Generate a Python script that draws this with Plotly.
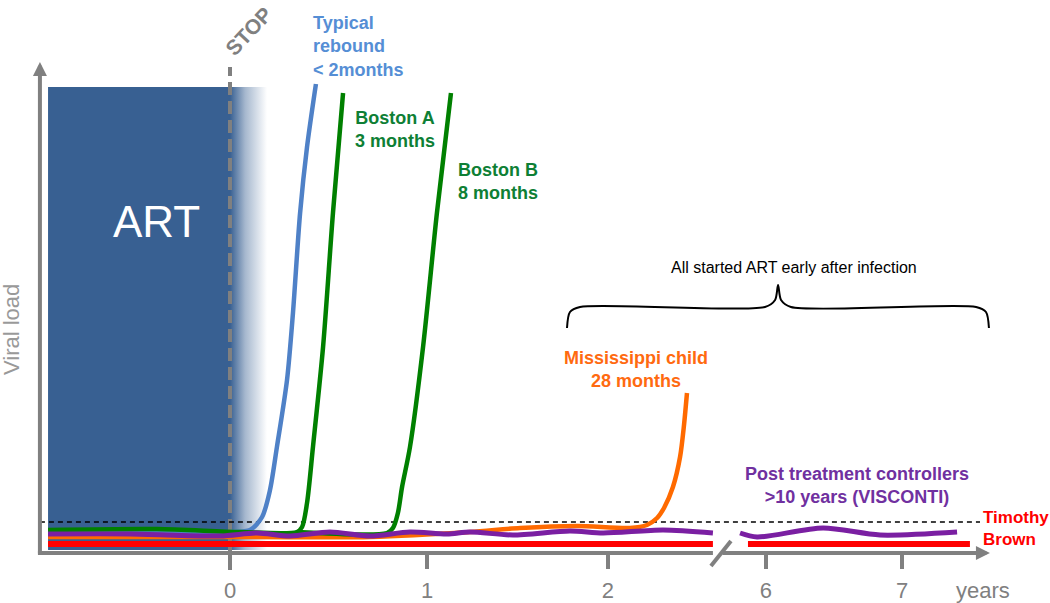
import plotly.graph_objects as go

# ---- schematic time axis (t units) and viral load (arbitrary) ----
TICK_T = [0, 0.995, 1.909, 2.707, 3.394]
TICK_TEXT = ["0", "1", "2", "6", "7"]

ART_T = [-0.919, 0.187, 0.187, -0.919]
ART_V = [0.03, 0.03, 4.66, 4.66]

BLUE_T = [-0.919, -0.404, 0.0, 0.101, 0.162, 0.202, 0.237, 0.288, 0.318, 0.354, 0.389, 0.434]
BLUE_V = [0.22, 0.21, 0.21, 0.23, 0.36, 0.63, 1.06, 1.73, 2.40, 3.40, 4.06, 4.69]

BOSTON_A_T = [-0.919, -0.369, 0.051, 0.338, 0.364, 0.389, 0.419, 0.470, 0.520, 0.571]
BOSTON_A_V = [0.23, 0.24, 0.21, 0.21, 0.26, 0.50, 1.06, 2.06, 3.40, 4.60]

BOSTON_B_T = [0.338, 0.793, 0.823, 0.848, 0.869, 0.909, 0.975, 1.045, 1.116]
BOSTON_B_V = [0.21, 0.20, 0.25, 0.40, 0.66, 1.06, 2.06, 3.40, 4.60]

MISS_T = [-0.919, 0.101, 0.707, 1.212, 1.465, 1.753, 2.020, 2.106, 2.157, 2.192, 2.237, 2.273, 2.293, 2.308]
MISS_V = [0.16, 0.16, 0.16, 0.21, 0.25, 0.27, 0.25, 0.28, 0.35, 0.45, 0.66, 0.96, 1.28, 1.60]

PTC_T = [-0.919, -0.505, -0.051, 0.136, 0.303, 0.505, 0.707, 0.909, 1.096, 1.212, 1.429, 1.717, 1.884, 2.187, 2.439]
PTC_V = [0.19, 0.19, 0.17, 0.20, 0.17, 0.21, 0.17, 0.21, 0.19, 0.21, 0.18, 0.22, 0.20, 0.23, 0.20]
PTC_T2 = [2.576, 2.662, 2.995, 3.283, 3.672]
PTC_V2 = [0.20, 0.16, 0.25, 0.18, 0.21]

BROWN_T = [-0.919, 2.439]
BROWN_T2 = [2.616, 3.737]
BROWN_V = [0.09, 0.09]

THRESH_T = [-0.960, 3.788]
THRESH_V = [0.31, 0.31]

BRACE_T = [1.702, 1.717, 1.768, 2.702, 2.753, 2.768, 2.783, 2.833, 3.768, 3.818, 3.833]
BRACE_V = [2.25, 2.41, 2.46, 2.46, 2.53, 2.68, 2.53, 2.46, 2.46, 2.41, 2.25]

GRAY = "#808080"
ART_BLUE = "#386092"
FONT = "Liberation Sans, Arial, sans-serif"

fig = go.Figure()

# ART block with fade after STOP
fig.add_trace(go.Scatter(
    x=ART_T, y=ART_V, fill="toself", mode="none",
    fillgradient=dict(type="horizontal", start=-0.919, stop=0.187,
                      colorscale=[[0, ART_BLUE], [0.831, ART_BLUE],
                                  [0.9, "rgba(56,96,146,0.45)"],
                                  [1, "rgba(56,96,146,0)"]]),
    hoverinfo="skip",
))

# STOP dashed line
fig.add_trace(go.Scatter(
    x=[0, 0], y=[-0.17, 4.86], mode="lines",
    line=dict(color=GRAY, width=4, dash="13px,6px"), hoverinfo="skip",
))

# detection threshold
fig.add_trace(go.Scatter(
    x=THRESH_T, y=THRESH_V, mode="lines",
    line=dict(color="black", width=1.3, dash="5px,4px"), hoverinfo="skip",
))


def curve(t, v, color, width):
    fig.add_trace(go.Scatter(
        x=t, y=v, mode="lines", line=dict(color=color, width=width,
                                          shape="spline", smoothing=0.8),
        hoverinfo="skip",
    ))


curve(MISS_T, MISS_V, "#FF6A00", 4.5)
curve(BLUE_T, BLUE_V, "#4F81C7", 4.5)
curve(BOSTON_A_T, BOSTON_A_V, "#008000", 4.5)
curve(BOSTON_B_T, BOSTON_B_V, "#008000", 4.5)
curve(PTC_T, PTC_V, "#7A1FA2", 5)
curve(PTC_T2, PTC_V2, "#7A1FA2", 5)
curve(BROWN_T, BROWN_V, "#FF0000", 6)
curve(BROWN_T2, BROWN_V, "#FF0000", 6)
curve(BRACE_T, BRACE_V, "black", 2)

# axes (with break)
fig.add_shape(type="line", x0=-0.970, x1=2.439, y0=0, y1=0,
              line=dict(color=GRAY, width=4))
fig.add_shape(type="line", x0=2.429, x1=2.530, y0=-0.13, y1=0.12,
              line=dict(color=GRAY, width=4))
fig.add_annotation(x=-0.960, y=4.91, ax=-0.960, ay=-0.02, xref="x", yref="y",
                   axref="x", ayref="y", showarrow=True, arrowhead=2,
                   arrowsize=0.7, arrowwidth=4, arrowcolor=GRAY, text="")
fig.add_annotation(x=3.838, y=0, ax=2.48, ay=0, xref="x", yref="y",
                   axref="x", ayref="y", showarrow=True, arrowhead=2,
                   arrowsize=0.7, arrowwidth=4, arrowcolor=GRAY, text="")


def label(t, v, text, color, size=18, bold=True, **kw):
    fig.add_annotation(x=t, y=v, xref="x", yref="y", showarrow=False,
                       text=f"<b>{text}</b>" if bold else text,
                       font=dict(family=FONT, size=size, color=color), **kw)


label(0.409, 5.07, "Typical<br>rebound<br>&lt; 2months", "#558ED5", xanchor="left", align="left")
label(0.833, 4.24, "Boston A<br>3 months", "#0E7F35")
label(1.354, 3.72, "Boston B<br>8 months", "#0E7F35")
label(2.051, 1.84, "Mississippi child<br>28 months", "#FF6A10")
label(3.167, 0.675, "Post treatment controllers<br>&gt;10 years (VISCONTI)", "#7030A0")
label(3.793, 0.25, "Timothy<br>Brown", "#FF0000", size=17, xanchor="left", align="left")
label(2.848, 2.86, "All started ART early after infection", "black", size=16, bold=False)
label(-0.369, 3.32, "ART", "white", size=44, bold=False)
label(0.091, 5.22, "STOP", GRAY, size=21, textangle=-47)
label(-1.106, 2.23, "Viral load", "#999999", size=22, bold=False, textangle=-90)
label(3.803, -0.37, "years", GRAY, size=22, bold=False)

fig.update_layout(
    width=1050, height=603,
    margin=dict(l=0, r=0, t=0, b=0),
    paper_bgcolor="white", plot_bgcolor="white",
    showlegend=False,
    xaxis=dict(range=[-1.1616, 4.1414], anchor="free", position=50 / 603,
               showgrid=False, zeroline=False, showline=False,
               tickvals=TICK_T, ticktext=TICK_TEXT, ticks="outside",
               ticklen=15, tickwidth=4, tickcolor=GRAY, ticklabelstandoff=3,
               tickfont=dict(family=FONT, size=22, color=GRAY)),
    yaxis=dict(range=[-0.50, 5.53], visible=False),
)

# the page has a default 8px body margin; drop it so the figure fills the window
fig.write_html("out.html", config={"displayModeBar": False},
               post_script="document.body.style.margin='0';document.body.style.overflow='hidden';")
